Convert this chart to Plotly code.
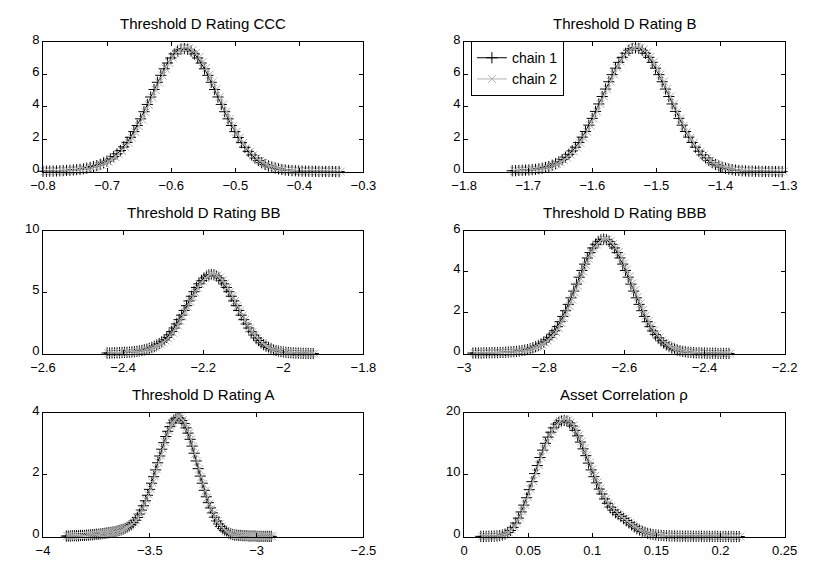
import numpy as np
import plotly.graph_objects as go

# ---------------- data (kernel density estimates) ----------------
titles = ["Threshold D Rating CCC", "Threshold D Rating B",
          "Threshold D Rating BB", "Threshold D Rating BBB",
          "Threshold D Rating A", "Asset Correlation \u03c1"]

# evaluation grid end points (start, end) of each chain
ccc_grid1 = (-0.8000, -0.3380)
ccc_grid2 = (-0.7974, -0.3354)
ccc_y1 = [0.02,0.02,0.03,0.03,0.04,0.05,0.06,0.07,0.08,0.10,
          0.12,0.14,0.17,0.21,0.26,0.31,0.37,0.45,0.54,0.65,
          0.78,0.93,1.10,1.30,1.53,1.81,2.12,2.47,2.85,3.26,
          3.70,4.15,4.61,5.07,5.52,5.95,6.35,6.71,7.02,7.27,
          7.45,7.56,7.60,7.56,7.45,7.27,7.02,6.71,6.35,5.95,
          5.52,5.07,4.61,4.15,3.70,3.26,2.85,2.47,2.11,1.79,
          1.50,1.25,1.03,0.84,0.68,0.55,0.44,0.35,0.28,0.22,
          0.17,0.13,0.10,0.08,0.06,0.05,0.04,0.03,0.03,0.02,
          0.02,0.02,0.01,0.01,0.01,0.01,0.01,0.00,0.00]
ccc_y2 = [0.02,0.02,0.02,0.03,0.03,0.04,0.05,0.06,0.07,0.09,
          0.11,0.13,0.16,0.20,0.24,0.29,0.35,0.42,0.51,0.62,
          0.75,0.90,1.07,1.27,1.50,1.77,2.08,2.43,2.81,3.22,
          3.66,4.11,4.58,5.04,5.50,5.94,6.35,6.72,7.04,7.30,
          7.49,7.61,7.66,7.62,7.51,7.33,7.08,6.77,6.40,5.99,
          5.55,5.09,4.62,4.15,3.69,3.25,2.83,2.45,2.09,1.77,
          1.48,1.23,1.01,0.83,0.67,0.54,0.43,0.34,0.27,0.21,
          0.16,0.12,0.09,0.07,0.06,0.05,0.04,0.03,0.03,0.02,
          0.02,0.02,0.01,0.01,0.01,0.01,0.01,0.00,0.00]

b_grid1 = (-1.7250, -1.3038)
b_grid2 = (-1.7224, -1.3012)
b_y1 = [0.05,0.06,0.07,0.08,0.09,0.10,0.12,0.14,0.17,0.21,
        0.26,0.32,0.40,0.49,0.60,0.74,0.89,1.07,1.28,1.51,
        1.80,2.13,2.48,2.87,3.29,3.72,4.18,4.64,5.10,5.55,
        5.99,6.39,6.75,7.06,7.31,7.50,7.61,7.65,7.61,7.50,
        7.31,7.06,6.75,6.39,5.99,5.55,5.10,4.64,4.18,3.72,
        3.29,2.87,2.48,2.13,1.80,1.51,1.26,1.04,0.85,0.69,
        0.55,0.44,0.35,0.27,0.21,0.16,0.12,0.09,0.07,0.05,
        0.04,0.03,0.03,0.02,0.02,0.01,0.01,0.01,0.01,0.00,
        0.00,0.00]
b_y2 = [0.04,0.05,0.06,0.07,0.08,0.09,0.11,0.13,0.16,0.20,
        0.25,0.31,0.38,0.47,0.58,0.71,0.86,1.04,1.25,1.49,
        1.77,2.10,2.46,2.85,3.27,3.71,4.17,4.64,5.11,5.57,
        6.01,6.42,6.79,7.10,7.36,7.55,7.66,7.70,7.66,7.55,
        7.36,7.10,6.78,6.41,6.00,5.56,5.10,4.63,4.16,3.70,
        3.26,2.84,2.45,2.09,1.77,1.48,1.23,1.01,0.82,0.67,
        0.54,0.43,0.34,0.27,0.21,0.16,0.12,0.09,0.07,0.06,
        0.05,0.04,0.03,0.03,0.02,0.02,0.01,0.01,0.01,0.01,
        0.00,0.00]

bb_grid1 = (-2.4400, -1.9254)
bb_grid2 = (-2.4369, -1.9223)
bb_y1 = [0.05,0.05,0.06,0.06,0.07,0.08,0.09,0.10,0.11,0.12,
         0.14,0.16,0.19,0.22,0.26,0.31,0.36,0.43,0.51,0.60,
         0.71,0.83,0.97,1.13,1.32,1.54,1.80,2.09,2.42,2.77,
         3.14,3.52,3.91,4.30,4.68,5.05,5.39,5.69,5.95,6.17,
         6.32,6.42,6.45,6.42,6.32,6.17,5.95,5.69,5.39,5.05,
         4.68,4.30,3.91,3.52,3.14,2.77,2.42,2.09,1.79,1.52,
         1.28,1.07,0.89,0.73,0.60,0.49,0.40,0.32,0.26,0.21,
         0.17,0.14,0.11,0.09,0.07,0.06,0.05,0.04,0.03,0.03,
         0.02,0.02,0.01,0.01]
bb_y2 = [0.04,0.05,0.05,0.06,0.06,0.07,0.08,0.09,0.10,0.11,
         0.13,0.15,0.17,0.20,0.24,0.28,0.33,0.39,0.46,0.55,
         0.65,0.77,0.91,1.07,1.25,1.46,1.71,1.99,2.31,2.66,
         3.03,3.42,3.82,4.22,4.61,4.99,5.34,5.66,5.93,6.16,
         6.33,6.44,6.50,6.46,6.36,6.20,5.98,5.71,5.40,5.05,
         4.68,4.29,3.89,3.50,3.11,2.74,2.39,2.06,1.76,1.49,
         1.25,1.04,0.86,0.71,0.58,0.47,0.38,0.31,0.25,0.20,
         0.16,0.13,0.10,0.08,0.07,0.05,0.04,0.04,0.03,0.02,
         0.02,0.02,0.01,0.01]

bbb_grid1 = (-2.9780, -2.3388)
bbb_grid2 = (-2.9746, -2.3354)
bbb_y1 = [0.03,0.03,0.03,0.03,0.04,0.04,0.04,0.05,0.05,0.05,
          0.06,0.06,0.07,0.08,0.09,0.10,0.11,0.13,0.15,0.17,
          0.20,0.24,0.29,0.34,0.41,0.48,0.57,0.68,0.80,0.95,
          1.12,1.32,1.56,1.82,2.10,2.41,2.73,3.06,3.40,3.74,
          4.07,4.38,4.68,4.94,5.17,5.35,5.49,5.57,5.60,5.57,
          5.49,5.35,5.17,4.94,4.68,4.38,4.07,3.74,3.40,3.06,
          2.73,2.41,2.10,1.82,1.56,1.32,1.11,0.93,0.77,0.63,
          0.52,0.42,0.34,0.27,0.22,0.17,0.14,0.11,0.09,0.07,
          0.06,0.05,0.04,0.04,0.03,0.03,0.02,0.02,0.02,0.02,
          0.01,0.01,0.01,0.01,0.01]
bbb_y2 = [0.03,0.03,0.03,0.03,0.03,0.04,0.04,0.04,0.05,0.05,
          0.05,0.06,0.07,0.07,0.08,0.09,0.11,0.12,0.14,0.16,
          0.19,0.23,0.27,0.32,0.38,0.45,0.54,0.64,0.76,0.90,
          1.06,1.26,1.49,1.74,2.02,2.33,2.65,2.99,3.33,3.68,
          4.02,4.34,4.64,4.91,5.15,5.34,5.48,5.57,5.61,5.58,
          5.50,5.37,5.19,4.97,4.71,4.42,4.11,3.78,3.44,3.10,
          2.77,2.45,2.14,1.86,1.59,1.35,1.14,0.95,0.79,0.65,
          0.53,0.43,0.35,0.28,0.22,0.18,0.14,0.11,0.09,0.07,
          0.06,0.05,0.04,0.04,0.03,0.03,0.02,0.02,0.02,0.02,
          0.01,0.01,0.01,0.01,0.01]

a_grid1 = (-3.8910, -2.9315)
a_grid2 = (-3.8863, -2.9268)
a_y1 = [0.02,0.02,0.02,0.03,0.03,0.03,0.03,0.04,0.04,0.04,
        0.05,0.05,0.06,0.06,0.07,0.08,0.08,0.09,0.10,0.11,
        0.12,0.13,0.14,0.15,0.16,0.18,0.20,0.22,0.24,0.27,
        0.30,0.34,0.39,0.45,0.53,0.62,0.73,0.86,1.00,1.16,
        1.34,1.53,1.73,1.94,2.16,2.39,2.61,2.83,3.04,3.24,
        3.41,3.56,3.68,3.77,3.83,3.85,3.83,3.76,3.66,3.52,
        3.35,3.15,2.93,2.70,2.45,2.20,1.96,1.73,1.50,1.29,
        1.10,0.93,0.77,0.63,0.51,0.41,0.33,0.26,0.20,0.16,
        0.12,0.09,0.07,0.05,0.05,0.04,0.04,0.03,0.03,0.03,
        0.02,0.02,0.02,0.02,0.01,0.01,0.01,0.01,0.01,0.01,
        0.01,0.01]
a_y2 = [0.02,0.02,0.02,0.02,0.03,0.03,0.03,0.04,0.04,0.04,
        0.05,0.05,0.06,0.06,0.07,0.07,0.08,0.09,0.10,0.11,
        0.12,0.13,0.14,0.15,0.17,0.18,0.20,0.22,0.25,0.28,
        0.31,0.35,0.40,0.46,0.54,0.63,0.74,0.87,1.02,1.18,
        1.36,1.55,1.75,1.96,2.18,2.41,2.63,2.85,3.06,3.25,
        3.43,3.58,3.70,3.79,3.85,3.88,3.85,3.78,3.67,3.53,
        3.35,3.15,2.92,2.68,2.43,2.18,1.93,1.70,1.47,1.26,
        1.07,0.90,0.75,0.62,0.50,0.40,0.32,0.25,0.19,0.15,
        0.11,0.09,0.07,0.05,0.05,0.04,0.04,0.03,0.03,0.03,
        0.02,0.02,0.02,0.02,0.01,0.01,0.01,0.01,0.01,0.01,
        0.01,0.01]

rho_grid1 = (0.0130, 0.2146)
rho_grid2 = (0.0140, 0.2156)
rho_y1 = [0.05,0.05,0.05,0.06,0.07,0.09,0.12,0.18,0.27,0.42,
          0.65,1.00,1.50,2.20,3.00,4.00,5.10,6.30,7.60,8.90,
          10.2,11.5,12.8,14.0,15.1,16.1,16.9,17.6,18.2,18.5,
          18.75,18.8,18.7,18.4,17.9,17.2,16.3,15.3,14.2,13.1,
          11.9,10.8,9.7,8.7,7.7,6.9,6.1,5.4,4.8,4.3,
          3.9,3.6,3.3,2.95,2.6,2.25,1.9,1.6,1.3,1.05,
          0.85,0.68,0.54,0.43,0.35,0.29,0.24,0.20,0.17,0.15,
          0.13,0.12,0.11,0.10,0.09,0.09,0.08,0.08,0.07,0.07,
          0.06,0.06,0.06,0.05,0.05,0.05,0.04,0.04,0.04,0.03,
          0.03,0.03,0.03,0.02,0.02,0.02,0.02]
rho_y2 = [0.05,0.05,0.05,0.06,0.07,0.09,0.13,0.19,0.29,0.45,
          0.70,1.06,1.58,2.28,3.10,4.10,5.20,6.40,7.70,9.00,
          10.3,11.6,12.9,14.1,15.2,16.2,17.0,17.7,18.3,18.7,
          18.95,19.0,18.85,18.5,18.0,17.3,16.4,15.4,14.3,13.2,
          12.0,10.9,9.8,8.8,7.8,6.9,6.1,5.4,4.8,4.3,
          3.9,3.55,3.25,2.9,2.55,2.2,1.85,1.55,1.25,1.0,
          0.81,0.65,0.52,0.42,0.34,0.28,0.23,0.19,0.16,0.14,
          0.12,0.11,0.10,0.09,0.09,0.08,0.08,0.07,0.07,0.06,
          0.06,0.06,0.05,0.05,0.05,0.04,0.04,0.04,0.03,0.03,
          0.03,0.03,0.02,0.02,0.02,0.02,0.02]

x_ranges = [[-0.8, -0.3], [-1.8, -1.3], [-2.6, -1.8], [-3.0, -2.2], [-4.0, -2.5], [0.0, 0.25]]
x_dticks = [0.1, 0.1, 0.2, 0.2, 0.5, 0.05]
y_ranges = [[0, 8], [0, 8], [0, 10], [0, 6], [0, 4], [0, 20]]
y_dticks = [2, 2, 5, 2, 2, 10]

panels = [
    (ccc_grid1, ccc_y1, ccc_grid2, ccc_y2),
    (b_grid1, b_y1, b_grid2, b_y2),
    (bb_grid1, bb_y1, bb_grid2, bb_y2),
    (bbb_grid1, bbb_y1, bbb_grid2, bbb_y2),
    (a_grid1, a_y1, a_grid2, a_y2),
    (rho_grid1, rho_y1, rho_grid2, rho_y2),
]

# ---------------- layout geometry ----------------
W, H = 815, 566
col_dom = [[31 / W, 362 / W], [466 / W, 797 / W]]
row_dom = [[1 - 166 / H, 1 - 33 / H], [1 - 353 / H, 1 - 227 / H], [1 - 541 / H, 1 - 414 / H]]

FONT = "Liberation Sans, Arial, Helvetica, sans-serif"
C1 = "#000000"
C2 = "#b0b0b0"

fig = go.Figure()
layout = dict(width=W, height=H, margin=dict(l=0, r=0, t=0, b=0),
              paper_bgcolor="white", plot_bgcolor="white",
              font=dict(family=FONT, size=14, color="black"),
              showlegend=True)
annotations = []

for k, (g1, y1, g2, y2) in enumerate(panels):
    r, c = divmod(k, 2)
    sfx = "" if k == 0 else str(k + 1)
    xa, ya = "x" + sfx, "y" + sfx
    x1 = np.linspace(g1[0], g1[1], len(y1))
    x2 = np.linspace(g2[0], g2[1], len(y2))
    fig.add_trace(go.Scatter(x=x1, y=y1, xaxis=xa, yaxis=ya, mode="lines+markers",
                             name="chain 1", showlegend=(k == 1), cliponaxis=False,
                             line=dict(color=C1, width=1),
                             marker=dict(symbol="cross-thin", size=8,
                                         line=dict(color=C1, width=1))))
    fig.add_trace(go.Scatter(x=x2, y=y2, xaxis=xa, yaxis=ya, mode="lines+markers",
                             name="chain 2", showlegend=(k == 1), cliponaxis=False,
                             line=dict(color=C2, width=1),
                             marker=dict(symbol="x-thin", size=8,
                                         line=dict(color=C2, width=1))))
    axcommon = dict(showline=True, linecolor="black", linewidth=1, mirror="ticks",
                    ticks="inside", ticklen=4, tickcolor="black", tickwidth=1,
                    showgrid=False, zeroline=False, fixedrange=True,
                    tickfont=dict(family=FONT, size=13, color="black"))
    layout["xaxis" + sfx] = dict(domain=col_dom[c], anchor=ya, range=x_ranges[k],
                                 tick0=0, dtick=x_dticks[k], ticklabelstandoff=2,
                                 **axcommon)
    layout["yaxis" + sfx] = dict(domain=row_dom[r], anchor=xa, range=y_ranges[k],
                                 tick0=0, dtick=y_dticks[k], ticklabelshift=-3,
                                 **axcommon)
    annotations.append(dict(text=titles[k], xref="paper", yref="paper",
                            x=(col_dom[c][0] + col_dom[c][1]) / 2, y=row_dom[r][1],
                            xanchor="center", yanchor="bottom", yshift=8,
                            showarrow=False,
                            font=dict(family=FONT, size=15, color="black")))

layout["annotations"] = annotations
layout["legend"] = dict(x=473 / W, y=1 - 32 / H, xanchor="left", yanchor="top",
                        bgcolor="white", bordercolor="black", borderwidth=1,
                        font=dict(family=FONT, size=14, color="black"),
                        tracegroupgap=0)
fig.update_layout(**layout)
fig.write_html("out.html")
